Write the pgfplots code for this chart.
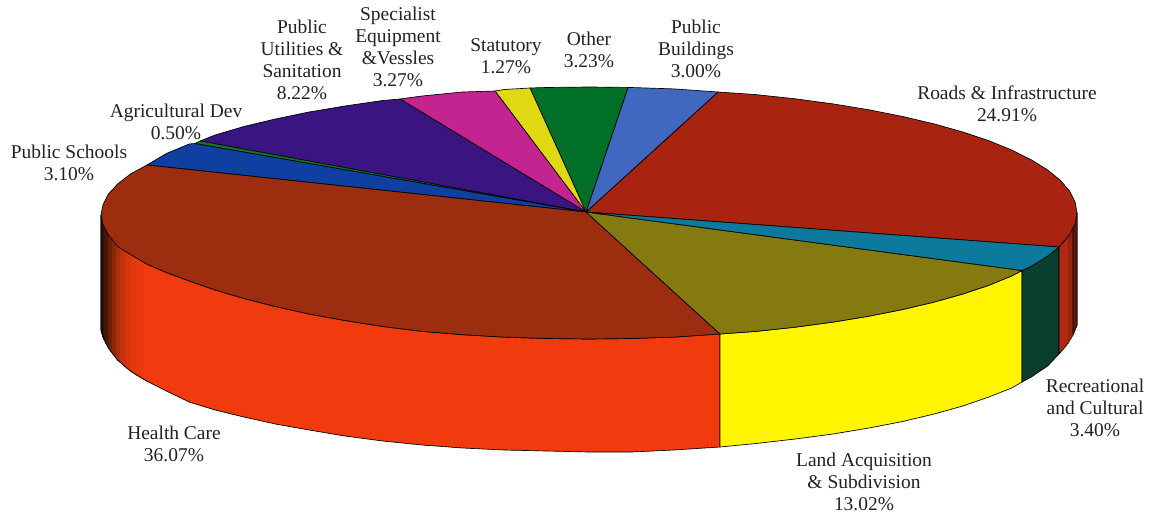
\documentclass[border=0pt]{standalone}
\usepackage{fontspec}
\setmainfont{Liberation Serif}
\usepackage{pgfplots}
\pgfplotsset{compat=1.18}
\definecolor{cRoads}{HTML}{A82410}
\definecolor{cBlueL}{HTML}{4068C0}
\definecolor{cGreen}{HTML}{006F28}
\definecolor{cStat}{HTML}{E0D810}
\definecolor{cMag}{HTML}{C42490}
\definecolor{cInd}{HTML}{3A1480}
\definecolor{cThin}{HTML}{0A7A20}
\definecolor{cSch}{HTML}{0F3FA0}
\definecolor{cHealth}{HTML}{9C2D0F}
\definecolor{cOlive}{HTML}{857A10}
\definecolor{cTeal}{HTML}{0B7A9C}
\definecolor{sHealth}{HTML}{F23A0F}
\definecolor{sYellow}{HTML}{FFF500}
\definecolor{sTeal}{HTML}{0A3F30}
\definecolor{sRoads}{HTML}{B02810}
\definecolor{txt}{HTML}{222222}
\definecolor{g1}{RGB}{42,16,8}
\definecolor{g2}{RGB}{74,22,8}
\definecolor{g3}{RGB}{110,32,8}
\definecolor{g4}{RGB}{143,40,10}
\definecolor{g5}{RGB}{170,46,10}
\definecolor{g6}{RGB}{196,51,12}
\definecolor{g7}{RGB}{214,54,13}
\definecolor{g8}{RGB}{226,56,14}
\definecolor{g9}{RGB}{234,57,14}
\definecolor{r1}{RGB}{150,35,14}
\definecolor{r2}{RGB}{96,24,8}
\tikzset{lbl/.style={font=\fontsize{14.6}{16.5}\selectfont,align=center,text=txt,inner sep=0pt}}
\begin{document}
\begin{tikzpicture}
\useasboundingbox (0,0) rectangle (870pt,385.5pt);
\begin{axis}[at={(0,0)},anchor=south west,scale only axis,width=870pt,height=385.5pt,
  xmin=0,xmax=1160,ymin=0,ymax=514,y dir=reverse,hide axis,clip=false,
  every axis plot/.append style={no marks,sharp plot,line join=round}]
% side walls
\addplot[fill=sHealth,draw=black,line width=.5pt] coordinates {(101,215)(102.9,224)(108.4,234.9)(117.6,246.5)(130.4,254.5)(146.7,264)(166.4,272.5)(189.2,281)(215.2,290)(243.9,298.5)(275.3,306.5)(309.1,314)(345,320.5)(382.8,326.5)(422.1,331.4)(462.7,334.7)(504.3,337.1)(546.5,338.5)(589,339)(631.5,338.5)(673.7,337.1)(720,334)(720,447)(673.7,450)(631.5,452)(589,452)(546.5,451)(504.3,450)(462.7,448)(422.1,445)(382.8,441)(345,436)(309.1,430)(275.3,424)(243.9,417)(215.2,410)(189.2,402)(166.4,391)(146.7,381)(130.4,371)(117.6,360)(108.4,348)(102.9,337)(101,330)(101,215)};
\addplot[fill=sYellow,draw=black,line width=.5pt] coordinates {(720,334)(755.9,331.4)(795.2,327.2)(833,322.1)(868.9,316.2)(902.7,309.5)(934.1,302.1)(962.8,294)(988.8,285.3)(1011.6,276)(1022,270.5)(1022,382)(1011.6,388)(988.8,397)(962.8,406)(934.1,414)(902.7,421.5)(868.9,428)(833,434)(795.2,439)(755.9,443.5)(720,447)(720,334)};
\addplot[fill=sTeal,draw=black,line width=.5pt] coordinates {(1022,270.5)(1031.3,266.2)(1047.6,256.1)(1059,247)(1059,354)(1047.6,366)(1031.3,377)(1022,382)(1022,270.5)};
\addplot[fill=sRoads,draw=black,line width=.5pt] coordinates {(1059,247)(1069.6,234.9)(1075.1,224)(1077,213)(1077,325)(1073,335)(1066,346)(1059,354)(1059,247)};
% shading strips, left wall
\addplot[fill=g9,draw=g9,line width=.3pt] coordinates {(136,258)(143,262)(143,379)(136,375)(136,258)};
\addplot[fill=g8,draw=g8,line width=.3pt] coordinates {(130,254.5)(136,258)(136,375)(130,371)(130,254.5)};
\addplot[fill=g7,draw=g7,line width=.3pt] coordinates {(125,251)(130,254.5)(130,371)(125,366.5)(125,251)};
\addplot[fill=g6,draw=g6,line width=.3pt] coordinates {(120,248)(125,251)(125,366.5)(120,362)(120,248)};
\addplot[fill=g5,draw=g5,line width=.3pt] coordinates {(116,245)(120,248)(120,362)(116,358)(116,245)};
\addplot[fill=g4,draw=g4,line width=.3pt] coordinates {(112,240)(116,245)(116,358)(112,353)(112,240)};
\addplot[fill=g3,draw=g3,line width=.3pt] coordinates {(108,234)(112,240)(112,353)(108,347)(108,234)};
\addplot[fill=g2,draw=g2,line width=.3pt] coordinates {(104,226)(108,234)(108,347)(104,340)(104,226)};
\addplot[fill=g1,draw=g1,line width=.3pt] coordinates {(101,215)(104,226)(104,340)(101,330)(101,215)};
% shading strips, right wall
\addplot[fill=r1,draw=r1,line width=.3pt] coordinates {(1068,237)(1073,228)(1073,335)(1068,344)(1068,237)};
\addplot[fill=r2,draw=black,line width=.4pt] coordinates {(1073,228)(1077,213)(1077,325)(1073,335)(1073,228)};
\addplot[draw=black,line width=.5pt] coordinates {(101,215)(101,330)(102.9,337)(108.4,348)(117.6,360)(130.4,371)(146.7,381)};
% top face
\addplot[fill=cRoads,draw=black,line width=.5pt] coordinates {(586,212)(718,92)(755.9,94.6)(795.2,98.8)(833,103.9)(868.9,109.8)(902.7,116.5)(934.1,123.9)(962.8,132)(988.8,140.7)(1011.6,150)(1031.3,159.8)(1047.6,169.9)(1060.4,180.4)(1069.6,191.1)(1075.1,202)(1077,213)(1075.1,224)(1069.6,234.9)(1059,247)(586,212)};
\addplot[fill=cBlueL,draw=black,line width=.5pt] coordinates {(586,212)(628,87.4)(673.7,88.9)(718,92)(586,212)};
\addplot[fill=cGreen,draw=black,line width=.5pt] coordinates {(586,212)(530,88)(546.5,87.5)(589,87)(628,87.4)(586,212)};
\addplot[fill=cStat,draw=black,line width=.5pt] coordinates {(586,212)(495,91)(504.3,89.5)(530,88)(586,212)};
\addplot[fill=cMag,draw=black,line width=.5pt] coordinates {(586,212)(400,99)(422.1,96)(462.7,92)(495,91)(586,212)};
\addplot[fill=cInd,draw=black,line width=.5pt] coordinates {(586,212)(200,141)(215.2,135)(243.9,126.5)(275.3,119)(309.1,112)(345,106)(382.8,100.5)(400,99)(586,212)};
\addplot[fill=cThin,draw=black,line width=.4pt] coordinates {(586,212)(195,143.5)(200,141)(586,212)};
\addplot[fill=cSch,draw=black,line width=.5pt] coordinates {(586,212)(147,165)(166.4,153.5)(189.2,144)(195,143.5)(586,212)};
\addplot[fill=cHealth,draw=black,line width=.5pt] coordinates {(586,212)(147,165)(130.4,174)(117.6,184)(108.4,194)(102.9,205)(101,215)(102.9,224)(108.4,234.9)(117.6,246.5)(130.4,254.5)(146.7,264)(166.4,272.5)(189.2,281)(215.2,290)(243.9,298.5)(275.3,306.5)(309.1,314)(345,320.5)(382.8,326.5)(422.1,331.4)(462.7,334.7)(504.3,337.1)(546.5,338.5)(589,339)(631.5,338.5)(673.7,337.1)(720,334)(586,212)};
\addplot[fill=cOlive,draw=black,line width=.5pt] coordinates {(586,212)(720,334)(755.9,331.4)(795.2,327.2)(833,322.1)(868.9,316.2)(902.7,309.5)(934.1,302.1)(962.8,294)(988.8,285.3)(1011.6,276)(1022,270.5)(586,212)};
\addplot[fill=cTeal,draw=black,line width=.5pt] coordinates {(586,212)(1022,270.5)(1031.3,266.2)(1047.6,256.1)(1059,247)(586,212)};
% labels
\node[lbl] at (axis cs:302,60) {Public\\Utilities \&\\Sanitation\\8.22\%};
\node[lbl] at (axis cs:398,47) {Specialist\\Equipment\\\&Vessles\\3.27\%};
\node[lbl] at (axis cs:506,56) {Statutory\\1.27\%};
\node[lbl] at (axis cs:589,50) {Other\\3.23\%};
\node[lbl] at (axis cs:696,49) {Public\\Buildings\\3.00\%};
\node[lbl] at (axis cs:1007,104) {Roads \& Infrastructure\\24.91\%};
\node[lbl] at (axis cs:176,122) {Agricultural Dev\\0.50\%};
\node[lbl] at (axis cs:69,163) {Public Schools\\3.10\%};
\node[lbl] at (axis cs:1095,408) {Recreational\\and Cultural\\3.40\%};
\node[lbl] at (axis cs:864,482) {Land Acquisition\\\& Subdivision\\13.02\%};
\node[lbl] at (axis cs:174,444) {Health Care\\36.07\%};
\end{axis}
\end{tikzpicture}
\end{document}
